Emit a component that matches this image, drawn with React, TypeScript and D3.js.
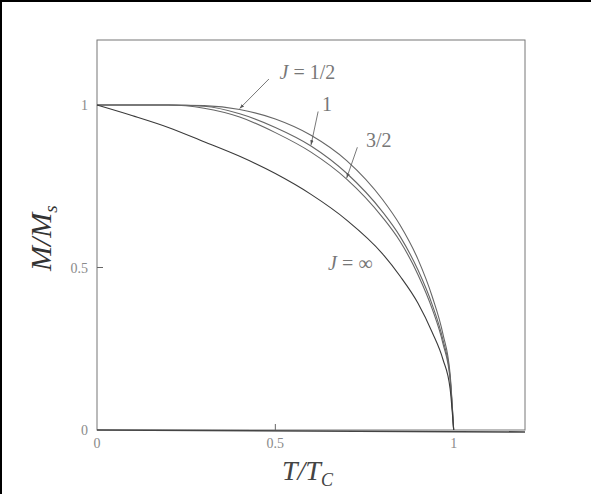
import React from "react";
import * as d3 from "d3";

// reduced temperature T/Tc
const tValues = [0, 0.1, 0.2, 0.3, 0.4, 0.5, 0.6, 0.7, 0.8, 0.85, 0.9, 0.94, 0.97, 0.99, 1];

// M/Ms for each J
const mHalf = [1, 1, 1, 0.998, 0.986, 0.957, 0.907, 0.829, 0.71, 0.63, 0.525, 0.41, 0.295, 0.172, 0];
const mOne = [1, 1, 1, 0.996, 0.973, 0.931, 0.874, 0.79, 0.672, 0.595, 0.492, 0.385, 0.277, 0.163, 0];
const mThreeHalves = [1, 1, 0.9998, 0.99, 0.963, 0.915, 0.855, 0.772, 0.655, 0.58, 0.478, 0.372, 0.266, 0.156, 0];
const mInfinite = [1, 0.967, 0.931, 0.887, 0.842, 0.789, 0.725, 0.646, 0.543, 0.473, 0.39, 0.3, 0.217, 0.127, 0];

const xTicks = [0, 0.5, 1];
const yTicks = [0, 0.5, 1];

const W = 594;
const H = 494;
const margin = { top: 40, right: 69, bottom: 64, left: 97 };

const series = [
  { key: "half", values: mHalf, color: "#666" },
  { key: "one", values: mOne, color: "#666" },
  { key: "threeHalves", values: mThreeHalves, color: "#666" },
  { key: "inf", values: mInfinite, color: "#3a3a3a" },
];

// callouts: label position and arrow tail in data units, arrow head on a curve point
const callouts = [
  { j: true, text: "1/2", lx: 0.59, ly: 1.1, fx: 0.482, fy: 1.08, at: 0.4, values: mHalf },
  { j: false, text: "1", lx: 0.645, ly: 1.0, fx: 0.62, fy: 0.98, at: 0.6, values: mOne },
  { j: false, text: "3/2", lx: 0.79, ly: 0.89, fx: 0.73, fy: 0.87, at: 0.7, values: mThreeHalves },
];

export default function App() {
  const x = d3.scaleLinear().domain([0, 1.2]).range([margin.left, W - margin.right]);
  const y = d3.scaleLinear().domain([0, 1.2]).range([H - margin.bottom, margin.top]);

  const lineGen = (vals: number[]) =>
    d3
      .line<number>()
      .x((_, i) => x(tValues[i]))
      .y((d) => y(d))
      .curve(d3.curveMonotoneX)(vals) || "";

  const serif = "'Liberation Serif', 'DejaVu Serif', serif";

  return (
    <svg
      width={W}
      height={H}
      style={{ position: "absolute", left: 0, top: 0, background: "#fff" }}
      fontFamily={serif}
    >
      <defs>
        <marker id="head" viewBox="0 0 10 10" refX="10" refY="5" markerWidth="6" markerHeight="6" orient="auto">
          <path d="M0,1.5 L10,5 L0,8.5 Z" fill="#555" />
        </marker>
      </defs>

      {/* scan border */}
      <rect x={0} y={0} width={591} height={2} fill="#000" />
      <rect x={0} y={0} width={2} height={H} fill="#000" />

      {/* frame */}
      <rect
        x={x(0)}
        y={y(1.2)}
        width={x(1.2) - x(0)}
        height={y(0) - y(1.2)}
        fill="none"
        stroke="#777"
        strokeWidth={1}
      />
      <line x1={x(0)} x2={x(1.2)} y1={y(0)} y2={y(0) + 2} stroke="#444" strokeWidth={1.6} />

      {/* ticks */}
      {xTicks.map((t) => (
        <g key={"x" + t}>
          {t > 0 && t < 1 && <line x1={x(t)} x2={x(t)} y1={y(0)} y2={y(0) - 6} stroke="#666" />}
          <text x={x(t)} y={y(0) + 18} textAnchor="middle" fontSize={14} fill="#8a8a8a">
            {t}
          </text>
        </g>
      ))}
      {yTicks.map((t) => (
        <g key={"y" + t}>
          {t > 0 && t < 1 && <line x1={x(0)} x2={x(0) + 6} y1={y(t)} y2={y(t)} stroke="#666" />}
          <text x={x(0) - 9} y={y(t) + 5} textAnchor="end" fontSize={14} fill="#8a8a8a">
            {t}
          </text>
        </g>
      ))}

      {/* curves */}
      {series.map((s) => (
        <path key={s.key} d={lineGen(s.values)} fill="none" stroke={s.color} strokeWidth={1.1} />
      ))}

      {/* callouts */}
      {callouts.map((c) => {
        const i = tValues.indexOf(c.at);
        return (
          <g key={c.text}>
            <line
              x1={x(c.fx)}
              y1={y(c.fy)}
              x2={x(c.at)}
              y2={y(c.values[i]) - 1}
              stroke="#555"
              strokeWidth={0.8}
              markerEnd="url(#head)"
            />
            <text x={x(c.lx)} y={y(c.ly) + 6} textAnchor="middle" fontSize={20} fill="#777">
              {c.j && <tspan fontStyle="italic">J</tspan>}
              {c.j ? " = " + c.text : c.text}
            </text>
          </g>
        );
      })}
      <text x={x(0.71)} y={y(0.51) + 6} textAnchor="middle" fontSize={20} fill="#777">
        <tspan fontStyle="italic">J</tspan> = ∞
      </text>

      {/* axis titles */}
      <text
        transform={`translate(${51},${y(0.59)}) rotate(-90)`}
        textAnchor="middle"
        fontSize={30}
        fill="#333"
        fontStyle="italic"
      >
        M/M<tspan fontSize={19} dy={6}>s</tspan>
      </text>
      <text x={x(0.59)} y={H - 14} textAnchor="middle" fontSize={28} fill="#444" fontStyle="italic">
        T/T<tspan fontSize={18} dy={6}>C</tspan>
      </text>
    </svg>
  );
}
